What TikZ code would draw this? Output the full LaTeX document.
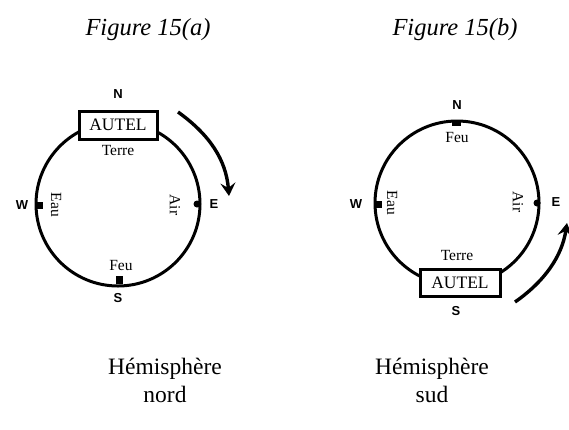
\documentclass[tikz,border=0pt]{standalone}
\usepackage{fontspec}
\setmainfont{Liberation Serif}
\newfontfamily\cardfont{Liberation Sans}
\usetikzlibrary{arrows.meta}
\begin{document}
\begin{tikzpicture}[x=1pt,y=-1pt,
  ring/.style={draw,line width=3pt},
  altar/.style={draw,line width=3pt,fill=white,minimum width=78pt,minimum height=28pt,inner sep=0pt,font=\fontsize{17.5}{17.5}\selectfont},
  elem/.style={font=\fontsize{15.5}{15.5}\selectfont,inner sep=0pt},
  card/.style={font=\cardfont\bfseries\fontsize{13}{13}\selectfont,inner sep=0pt},
  tick/.style={fill=black,inner sep=0pt,minimum width=7pt,minimum height=7pt},
  dottick/.style={fill=black,circle,inner sep=0pt,minimum size=7pt},
  turn/.style={line width=3.4pt,-{Stealth[length=13pt,width=15pt,inset=5pt]}},
  title/.style={font=\itshape\fontsize{24.5}{24.5}\selectfont},
  caption/.style={align=center,font=\fontsize{23.5}{28}\selectfont}]
\useasboundingbox (0,0) rectangle (569,429);

% ---- Figure (a)
\node[title] (ta) at (148,30) {Figure 15(a)};
\node[draw=none,circle,minimum size=164pt] (ca) at (118,204) {};
\draw[ring] (ca) circle[radius=82pt];
\node[altar] (boxa) at (118,125) {AUTEL};
\node[tick] (ma-w) at (39,205) {};
\node[dottick] (ma-e) at (197,204) {};
\node[tick,minimum height=8pt] (ma-s) at (119,280) {};
\node[card] (na) at (118,94) {N};
\node[card] (wa) at (22,205) {W};
\node[card] (ea) at (214,204) {E};
\node[card] (sa) at (118,298) {S};
\node[elem] (terrea) at (118,150) {Terre};
\node[elem] (feua) at (121,265) {Feu};
\node[elem,rotate=-90] (eaua) at (56,205) {Eau};
\node[elem,rotate=-90] (aira) at (175,205) {Air};
\coordinate (arA1) at (178,112);
\coordinate (arA2) at (229,196);
\draw[turn] (arA1) .. controls (210,135) and (226,160) .. (arA2);
\node[caption] (capa) at (165,380) {Hémisphère\\nord};

% ---- Figure (b)
\node[title] (tb) at (455,30) {Figure 15(b)};
\node[draw=none,circle,minimum size=164pt] (cb) at (457,203) {};
\draw[ring] (cb) circle[radius=82pt];
\node[altar,minimum width=80pt,minimum height=27pt] (boxb) at (460,283) {AUTEL};
\node[tick,minimum width=9pt,minimum height=6pt] (mb-n) at (456,123) {};
\node[tick] (mb-w) at (378,204) {};
\node[dottick] (mb-e) at (537,203) {};
\node[card] (nb) at (457,105) {N};
\node[card] (wb) at (356,204) {W};
\node[card] (eb) at (556,202) {E};
\node[card] (sb) at (456,311) {S};
\node[elem] (feub) at (457,137) {Feu};
\node[elem] (terreb) at (457,255) {Terre};
\node[elem,rotate=-90] (eaub) at (392,203) {Eau};
\node[elem,rotate=-90] (airb) at (518,202) {Air};
\coordinate (arB1) at (515,302);
\coordinate (arB2) at (567,223);
\draw[turn] (arB1) .. controls (545,281) and (562,256) .. (arB2);
\node[caption] (capb) at (432,380) {Hémisphère\\sud};
\end{tikzpicture}
\end{document}
